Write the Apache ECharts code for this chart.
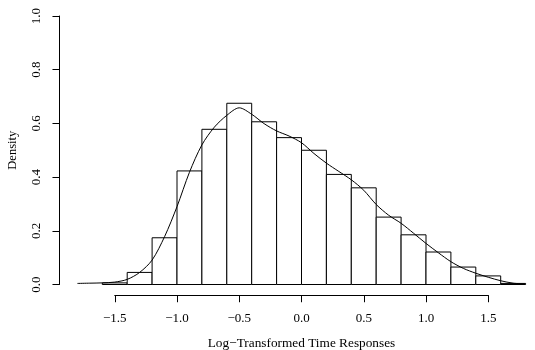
<!DOCTYPE html>
<html>
<head>
<meta charset="utf-8">
<script src="https://cdn.jsdelivr.net/npm/echarts@6/dist/echarts.min.js"></script>
<style>html,body{margin:0;padding:0;background:#fff}#c{width:535px;height:350px}</style>
</head>
<body>
<div id="c"></div>
<script>
// ---- data ----
const binWidth = 0.2;
const binStarts = [-1.6,-1.4,-1.2,-1.0,-0.8,-0.6,-0.4,-0.2,0.0,0.2,0.4,0.6,0.8,1.0,1.2,1.4,1.6];
const densities = [0.006,0.045,0.174,0.423,0.578,0.675,0.606,0.547,0.500,0.410,0.360,0.251,0.185,0.121,0.065,0.032,0.004];
const curveX = [-1.8,-1.7,-1.6,-1.5,-1.4,-1.3,-1.2,-1.1,-1.0,-0.9,-0.8,-0.7,-0.6,-0.5,-0.4,-0.3,-0.2,-0.1,0.0,0.1,0.2,0.3,0.4,0.5,0.6,0.7,0.8,0.9,1.0,1.1,1.2,1.3,1.4,1.5,1.6,1.7,1.8];
const curveY = [0.004,0.005,0.006,0.009,0.019,0.045,0.091,0.178,0.290,0.418,0.520,0.586,0.630,0.658,0.634,0.599,0.572,0.553,0.528,0.488,0.452,0.421,0.390,0.351,0.298,0.258,0.228,0.191,0.153,0.118,0.085,0.060,0.042,0.027,0.014,0.005,0.002];
const xTicks = [-1.5,-1.0,-0.5,0.0,0.5,1.0,1.5];
const yTicks = [0.0,0.2,0.4,0.6,0.8,1.0];
const xTitle = 'Log\u2212Transformed Time Responses';
const yTitle = 'Density';

// ---- layout ----
const FONT = '"Liberation Serif", "DejaVu Serif", serif';
const x0 = 301.5, sx = 124.5;   // px of x=0, px per unit
const y0 = 284.5, sy = 268.5;   // px of y=0, px per unit
const xMin = -1.944, xMax = 1.85, yMin = -0.04, yMax = 1.04;
const plotLeft = x0 + xMin * sx, plotW = (xMax - xMin) * sx;
const plotTop = y0 - yMax * sy, plotH = (yMax - yMin) * sy;
const fmt = v => Number(v).toFixed(1).replace('-', '\u2212');

const chart = echarts.init(document.getElementById('c'), null, {renderer: 'canvas'});
const hidden = {show: false};
const option = {
  backgroundColor: '#fff',
  animation: false,
  textStyle: {fontFamily: FONT, color: '#000'},
  grid: [
    {left: plotLeft, top: plotTop, width: plotW, height: plotH, containLabel: false, outerBoundsMode: 'none'},
    {left: x0 + xTicks[0] * sx, top: plotTop, width: (xTicks[xTicks.length-1] - xTicks[0]) * sx, height: plotH, containLabel: false, outerBoundsMode: 'none'},
    {left: plotLeft, top: y0 - yTicks[yTicks.length-1] * sy, width: 100, height: (yTicks[yTicks.length-1] - yTicks[0]) * sy, containLabel: false, outerBoundsMode: 'none'}
  ],
  xAxis: [
    {type: 'value', gridIndex: 0, min: xMin, max: xMax, axisLine: hidden, axisTick: hidden, axisLabel: hidden, splitLine: hidden},
    {type: 'value', gridIndex: 1, min: xTicks[0], max: xTicks[xTicks.length-1], position: 'bottom',
     axisLine: {show: true, onZero: false, lineStyle: {color: '#000', width: 1}},
     axisTick: {show: true, inside: false, length: 7, lineStyle: {color: '#000', width: 1}, customValues: xTicks},
     axisLabel: {show: true, margin: 17, fontSize: 13, fontFamily: FONT, color: '#000', customValues: xTicks, formatter: fmt},
     splitLine: hidden,
     name: xTitle, nameLocation: 'middle', nameGap: 42,
     nameTextStyle: {fontSize: 13.3, fontFamily: FONT, color: '#000'}},
    {type: 'value', gridIndex: 2, min: 0, max: 1, axisLine: hidden, axisTick: hidden, axisLabel: hidden, splitLine: hidden}
  ],
  yAxis: [
    {type: 'value', gridIndex: 0, min: yMin, max: yMax, axisLine: hidden, axisTick: hidden, axisLabel: hidden, splitLine: hidden},
    {type: 'value', gridIndex: 1, min: yMin, max: yMax, axisLine: hidden, axisTick: hidden, axisLabel: hidden, splitLine: hidden},
    {type: 'value', gridIndex: 2, min: yTicks[0], max: yTicks[yTicks.length-1], position: 'left',
     axisLine: {show: true, onZero: false, lineStyle: {color: '#000', width: 1}},
     axisTick: {show: true, inside: false, length: 7, lineStyle: {color: '#000', width: 1}, customValues: yTicks},
     axisLabel: {show: true, margin: 16, rotate: 90, fontSize: 13, fontFamily: FONT, color: '#000', customValues: yTicks, formatter: fmt},
     splitLine: hidden,
     name: yTitle, nameLocation: 'middle', nameGap: 40, nameRotate: 90,
     nameTextStyle: {fontSize: 12.5, fontFamily: FONT, color: '#000'}}
  ],
  series: [
    {
      type: 'custom', xAxisIndex: 0, yAxisIndex: 0, clip: false,
      data: binStarts.map((s, i) => [s, s + binWidth, densities[i]]),
      encode: {x: [0, 1], y: 2},
      renderItem: function (params, api) {
        const p0 = api.coord([api.value(0), 0]);
        const p1 = api.coord([api.value(1), api.value(2)]);
        return {
          type: 'rect',
          shape: {x: p0[0], y: p1[1], width: p1[0] - p0[0], height: p0[1] - p1[1]},
          style: {fill: '#fff', stroke: '#000', lineWidth: 1}
        };
      },
      z: 2
    },
    {
      type: 'line', xAxisIndex: 0, yAxisIndex: 0,
      data: curveX.map((x, i) => [x, curveY[i]]),
      smooth: 0.3, showSymbol: false, symbol: 'none',
      lineStyle: {color: '#000', width: 1},
      z: 3
    }
  ]
};
chart.setOption(option);
</script>
</body>
</html>
